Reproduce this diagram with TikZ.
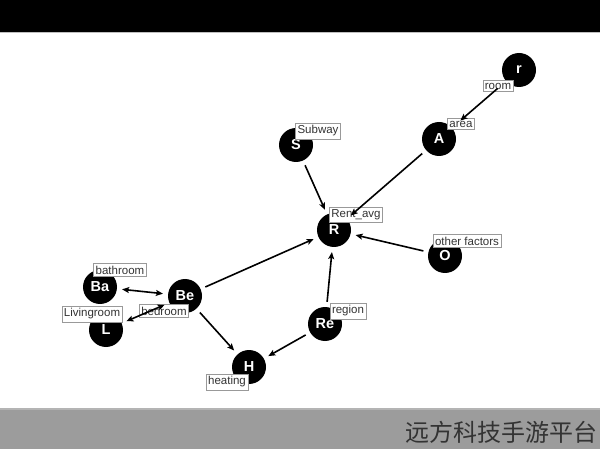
\documentclass[tikz,border=0pt]{standalone}
\usepackage{fontspec}
\setmainfont{Liberation Sans}
\newfontfamily\cjk{Noto Sans CJK SC}
\usetikzlibrary{arrows.meta}
\definecolor{band}{HTML}{9C9C9C}
\definecolor{bandedge}{HTML}{B4B4B4}
\begin{document}
\begin{tikzpicture}[x=1pt, y=-1pt,
    var/.style = {circle, fill=black, minimum size=34pt, inner sep=0pt, text=white,
                  font=\bfseries\fontsize{14.5}{15}\selectfont},
    tag/.style = {draw=black!40, fill=white, line width=0.7pt, inner xsep=2pt, inner ysep=2.5pt,
                  text=black!80, font=\fontsize{11.5}{12}\selectfont},
    link/.style = {-{Stealth[length=7pt, width=6pt, inset=1.5pt]}, line width=1.6pt,
                   shorten >=5pt, shorten <=5pt},
    twoway/.style = {{Stealth[length=7pt, width=6pt, inset=1.5pt]}-{Stealth[length=7pt, width=6pt, inset=1.5pt]},
                     line width=1.6pt, shorten >=5pt, shorten <=5pt}]
\useasboundingbox (0,0) rectangle (600,449);
% frame bands
\fill[black] (0,0) rectangle (600,32);
\fill[black!25] (0,32) rectangle (600,33.5);
\fill[bandedge] (0,408) rectangle (600,410);
\fill[band] (0,410) rectangle (600,449);
\node[anchor=east, inner sep=0pt, text=black!80, font=\cjk\fontsize{24}{24}\selectfont] (mark) at (598,432) {远方科技手游平台};

% variables
\node[var] (r)  at (519,70)  {r};
\node[var] (A)  at (439,139) {A};
\node[var] (S)  at (296,145) {S};
\node[var] (R)  at (334,230) {R};
\node[var] (O)  at (445,256) {O};
\node[var] (Ba) at (100,287) {Ba};
\node[var] (Be) at (185,296) {Be};
\node[var] (L)  at (106,330) {L};
\node[var] (Re) at (325,324) {Re};
\node[var] (H)  at (249,367) {H};

% names
\node[tag] (rlab)  at (498,86)  {room};
\node[tag] (Alab)  at (461,124) {area};
\node[tag] (Slab)  at (318,131) {Subway};
\node[tag] (Rlab)  at (356,215) {Rent\_avg};
\node[tag] (Olab)  at (467,241) {other factors};
\node[tag] (Balab) at (120,270) {bathroom};
\node[tag] (Llab)  at (92,314)  {Livingroom};
\node[tag] (Belab) at (164,311) {bedroom};
\node[tag] (Relab) at (348,311) {region};
\node[tag] (Hlab)  at (227,382) {heating};

% dependencies
\draw[link, shorten >=11pt, shorten <=11pt] (r) -- (A);
\draw[link] (A) -- (R);
\draw[link] (S) -- (R);
\draw[link] (O) -- (R);
\draw[link] (Be) -- (R);
\draw[link] (Re) -- (R);
\draw[link] (Be) -- (H);
\draw[link] (Re) -- (H);
\draw[twoway] (Ba) -- (Be);
\draw[twoway] (Be) -- (L);
\end{tikzpicture}
\end{document}
